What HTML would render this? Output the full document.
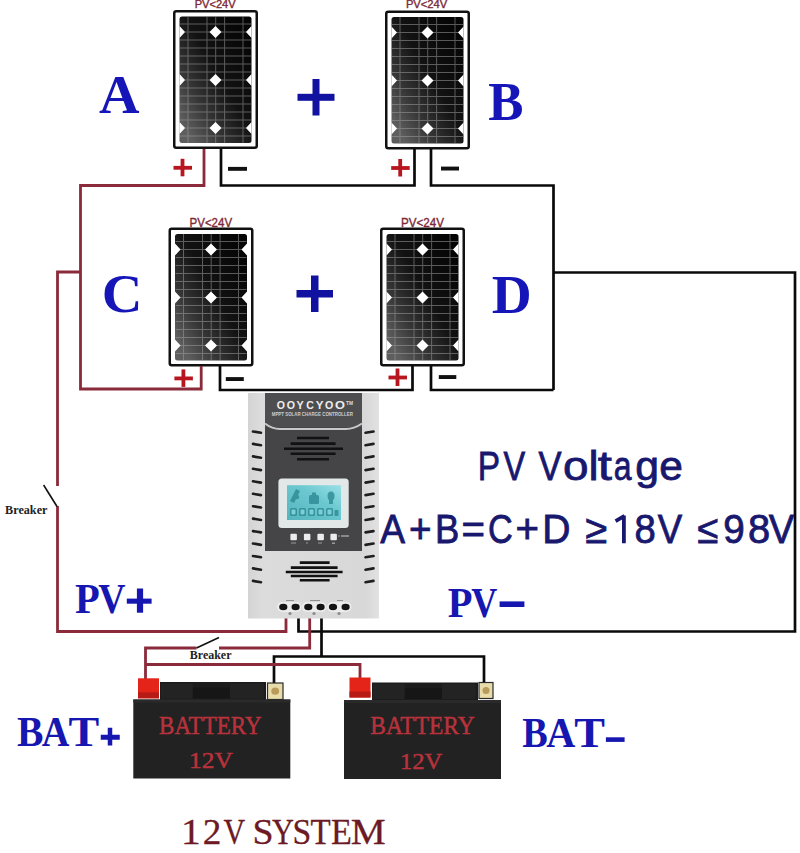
<!DOCTYPE html>
<html><head><meta charset="utf-8">
<style>
html,body{margin:0;padding:0;background:#fff;width:800px;height:853px;overflow:hidden;}
svg{display:block;position:absolute;left:0;top:0;}
</style></head>
<body>
<svg width="800" height="853" viewBox="0 0 800 853">
<defs>
  <linearGradient id="pg" x1="0.9" y1="0.1" x2="0.1" y2="0.9">
    <stop offset="0" stop-color="#050505"/>
    <stop offset="0.45" stop-color="#121212"/>
    <stop offset="0.75" stop-color="#363636"/>
    <stop offset="1" stop-color="#5e5e5e"/>
  </linearGradient>
  <linearGradient id="bodyg" x1="0" y1="0" x2="1" y2="0">
    <stop offset="0" stop-color="#d4d4d4"/>
    <stop offset="0.1" stop-color="#dcdcdc"/>
    <stop offset="0.9" stop-color="#d8d8d8"/>
    <stop offset="1" stop-color="#e2e2e2"/>
  </linearGradient>
  <linearGradient id="lcdg" x1="0" y1="1" x2="1" y2="0">
    <stop offset="0" stop-color="#54b4bc"/>
    <stop offset="0.6" stop-color="#6cc8d0"/>
    <stop offset="1" stop-color="#9ae0e6"/>
  </linearGradient>
  <clipPath id="pclip"><rect x="6.5" y="6.5" width="72" height="126.5"/></clipPath>
  <g id="panel">
    <rect x="1.25" y="1.25" width="82.5" height="136.5" rx="2" fill="#fff" stroke="#111" stroke-width="2.5"/>
    <rect x="6.5" y="6.5" width="72" height="126.5" rx="2.5" fill="url(#pg)"/>
    <g stroke="#9c9c9c" stroke-width="1" opacity="0.55">
      <path d="M15,6.5V133 M34,6.5V133 M42.7,6.5V133 M51.6,6.5V133 M70,6.5V133"/>
      <path d="M7,14H78 M7,22H78 M7,30H78 M7,38H78 M7,46H78 M7,54H78 M7,62H78 M7,70H78 M7,78H78 M7,86H78 M7,94H78 M7,102H78 M7,110H78 M7,118H78 M7,126H78"/>
    </g>
    <g clip-path="url(#pclip)" fill="#fff">
      <path d="M42.5,16 L48.5,22 L42.5,28 L36.5,22 Z M42.5,64 L48.5,70 L42.5,76 L36.5,70 Z M42.5,112 L48.5,118 L42.5,124 L36.5,118 Z"/>
      <path d="M6.5,16 L12,22 L6.5,28 L1,22 Z M6.5,64 L12,70 L6.5,76 L1,70 Z M6.5,112 L12,118 L6.5,124 L1,118 Z"/>
      <path d="M78.5,16 L84,22 L78.5,28 L73,22 Z M78.5,64 L84,70 L78.5,76 L73,70 Z M78.5,112 L84,118 L78.5,124 L73,118 Z"/>
    </g>
  </g>
</defs>

<use href="#panel" x="173" y="10"/>
<use href="#panel" x="385" y="10.5"/>
<use href="#panel" x="168.5" y="227.5"/>
<use href="#panel" x="380" y="227.5"/>
<text x="194.71" y="8.20" textLength="40.96" lengthAdjust="spacingAndGlyphs" font-family='"Liberation Sans",sans-serif' font-weight="normal" font-size="10.5" fill="#7c2836" stroke="#7c2836" stroke-width="0.35">PV&lt;24V</text>
<text x="405.90" y="8.20" textLength="41.37" lengthAdjust="spacingAndGlyphs" font-family='"Liberation Sans",sans-serif' font-weight="normal" font-size="10.5" fill="#7c2836" stroke="#7c2836" stroke-width="0.35">PV&lt;24V</text>
<text x="189.58" y="226.50" textLength="42.50" lengthAdjust="spacingAndGlyphs" font-family='"Liberation Sans",sans-serif' font-weight="normal" font-size="12.3" fill="#7c2836" stroke="#7c2836" stroke-width="0.35">PV&lt;24V</text>
<text x="401.07" y="227.00" textLength="43.01" lengthAdjust="spacingAndGlyphs" font-family='"Liberation Sans",sans-serif' font-weight="normal" font-size="12.3" fill="#7c2836" stroke="#7c2836" stroke-width="0.35">PV&lt;24V</text>
<g fill="none" stroke="#0a0a0a" stroke-width="2.7" stroke-linejoin="miter" stroke-linecap="butt">
  <path d="M221,149 V185.5 H414.5 V149"/>
  <path d="M431,149 V185.5 H553.5 V390"/>
  <path d="M220,366 V390 H412.5 V366"/>
  <path d="M431,366 V390 H553.5"/>
  <path d="M553.5,272.5 H795 V631.5 H298.5 V617"/>
  <path d="M321.5,617 V656.5"/>
  <path d="M274,683 V656.5 H484 V683"/>
</g>
<g fill="none" stroke="#8a2a3a" stroke-width="2.8" stroke-linejoin="miter">
  <path d="M204,149 V185.5 H80.5 V389 H201.2 V366"/>
  <path d="M80.5,272 H57.5 V486"/>
  <path d="M57.5,506 V631.5 H286 V617"/>
  <path d="M309.7,617 V648 H219"/>
  <path d="M196.5,648 H145.5 V679"/>
  <path d="M145.5,664.5 H360 V679"/>
</g>
<g stroke="#111" stroke-width="1.6" fill="none">
  <path d="M43.6,485 L57,506.5"/>
  <path d="M196.5,648 L219,637.5"/>
</g>
<text x="5.12" y="514.00" textLength="42.31" lengthAdjust="spacingAndGlyphs" font-family='"Liberation Serif",serif' font-weight="bold" font-size="12" fill="#222222" >Breaker</text>
<text x="189.82" y="658.75" textLength="41.65" lengthAdjust="spacingAndGlyphs" font-family='"Liberation Serif",serif' font-weight="bold" font-size="11.5" fill="#222222" >Breaker</text>
<g fill="#b8161e">
  <rect x="173.5" y="165.9" width="18.5" height="3.8"/><rect x="180.6" y="158.8" width="3.8" height="17.5"/>
  <rect x="391.2" y="166.1" width="18.5" height="3.8"/><rect x="398.3" y="159" width="3.8" height="17.5"/>
  <rect x="174.4" y="376.5" width="18.5" height="3.8"/><rect x="181.5" y="369.4" width="3.8" height="17.5"/>
  <rect x="388.5" y="375.6" width="18.5" height="3.8"/><rect x="395.6" y="368.5" width="3.8" height="17.5"/>
</g>
<g fill="#111">
  <rect x="228" y="166.9" width="19" height="3.9"/>
  <rect x="441" y="166.6" width="18" height="3.9"/>
  <rect x="225.8" y="377.1" width="18" height="3.9"/>
  <rect x="438.8" y="375.1" width="17.5" height="3.9"/>
</g>
<text transform="translate(119.25,113.00) scale(1.019,1)" x="-19.94" y="0" font-family='"Liberation Serif",serif' font-weight="bold" font-size="55" fill="#1616b8" >A</text>
<text transform="translate(505.50,120.00) scale(0.960,1)" x="-18.01" y="0" font-family='"Liberation Serif",serif' font-weight="bold" font-size="55" fill="#1616b8" >B</text>
<text transform="translate(121.25,312.00) scale(1.024,1)" x="-19.11" y="0" font-family='"Liberation Serif",serif' font-weight="bold" font-size="55" fill="#1616b8" >C</text>
<text transform="translate(510.75,312.50) scale(1.006,1)" x="-18.98" y="0" font-family='"Liberation Serif",serif' font-weight="bold" font-size="55" fill="#1616b8" >D</text>
<g fill="#1212a0">
  <rect x="297.5" y="93.8" width="37" height="7"/><rect x="312.5" y="79" width="7" height="36.5"/>
  <rect x="296.5" y="290" width="36.5" height="7.5"/><rect x="311" y="275.5" width="7.5" height="36.5"/>
</g>
<g>
  <rect x="248" y="393" width="131" height="225.5" fill="url(#bodyg)"/>
  <rect x="265" y="393" width="97" height="158" fill="#454547"/>
  <rect x="265" y="393" width="97" height="34" fill="#4e4e50"/>
  <path d="M265,423.5 Q272,429 280,429 L346,429 Q354,429 362,423.5" fill="none" stroke="#c8c8c8" stroke-width="2"/>
<text transform="translate(280.93,409.10) scale(0.961,1)" x="-4.26" y="0" font-family='"Liberation Sans",sans-serif' font-weight="bold" font-size="11" fill="#eeeeee" >O</text>
<text transform="translate(290.90,409.10) scale(0.968,1)" x="-4.26" y="0" font-family='"Liberation Sans",sans-serif' font-weight="bold" font-size="11" fill="#eeeeee" >O</text>
<text transform="translate(300.10,409.10) scale(0.981,1)" x="-3.69" y="0" font-family='"Liberation Sans",sans-serif' font-weight="bold" font-size="11" fill="#eeeeee" >Y</text>
<text transform="translate(310.05,409.10) scale(0.958,1)" x="-4.04" y="0" font-family='"Liberation Sans",sans-serif' font-weight="bold" font-size="11" fill="#eeeeee" >C</text>
<text transform="translate(319.75,409.10) scale(1.053,1)" x="-3.69" y="0" font-family='"Liberation Sans",sans-serif' font-weight="bold" font-size="11" fill="#eeeeee" >Y</text>
<text transform="translate(329.20,409.10) scale(0.968,1)" x="-4.26" y="0" font-family='"Liberation Sans",sans-serif' font-weight="bold" font-size="11" fill="#eeeeee" >O</text>
<text transform="translate(339.95,409.10) scale(1.164,1)" x="-4.26" y="0" font-family='"Liberation Sans",sans-serif' font-weight="bold" font-size="11" fill="#eeeeee" >O</text>
  <text x="346" y="405" font-family='"Liberation Sans",sans-serif' font-weight="bold" font-size="4.8" fill="#dddddd" textLength="7" lengthAdjust="spacingAndGlyphs">TM</text>
<text x="271.71" y="416.20" textLength="81.18" lengthAdjust="spacingAndGlyphs" font-family='"Liberation Sans",sans-serif' font-weight="bold" font-size="5.2" fill="#cfcfcf" >MPPT SOLAR CHARGE CONTROLLER</text>
  <g stroke="#111" stroke-width="2.6" fill="none">
    <path d="M297,438H329 M290.6,443.6H335.6 M284,448.7H343 M290.6,453.8H335.6 M297,459.3H329"/>
    <path d="M299.8,562.6H329.6 M290.8,567.6H337.6 M285.8,572H342.6 M290.8,576H337.6 M299.8,580.2H329.6"/>
  </g>
  <rect x="278.4" y="478.4" width="70.3" height="49.6" rx="3.5" fill="#e2e8e8"/>
  <rect x="287" y="485.2" width="54" height="34.8" fill="url(#lcdg)"/>
  <g fill="#2c8a94" opacity="0.8">
    <path d="M290,501 L296,489 L300,491 L294,503 Z"/>
    <circle cx="297" cy="497" r="2.2"/>
    <rect x="309" y="495" width="10" height="9" rx="1.5"/>
    <rect x="312" y="492.5" width="4" height="3"/>
    <ellipse cx="331" cy="496" rx="3.5" ry="4.5"/>
    <rect x="329" y="500" width="4" height="4"/>
    <rect x="290" y="508" width="7" height="8" rx="1.5"/>
    <rect x="299" y="508" width="7" height="8" rx="1.5"/>
    <rect x="308" y="508" width="7" height="8" rx="1.5"/>
    <rect x="317" y="508" width="7" height="8" rx="1.5"/>
    <rect x="326" y="508" width="7" height="8" rx="1.5"/>
    <rect x="334.5" y="510" width="4" height="6" rx="1"/>
  </g>
  <g fill="#8fdde4" opacity="0.8">
    <rect x="291.5" y="509.5" width="4" height="5" rx="1"/>
    <rect x="300.5" y="509.5" width="4" height="5" rx="1"/>
    <rect x="309.5" y="509.5" width="4" height="5" rx="1"/>
    <rect x="318.5" y="509.5" width="4" height="5" rx="1"/>
    <rect x="327.5" y="509.5" width="4" height="5" rx="1"/>
  </g>
  <g fill="#9a9a9a">
    <rect x="291" y="542.5" width="5" height="1"/><rect x="306" y="542.5" width="2" height="1"/><rect x="318" y="542.5" width="4" height="1"/><rect x="332" y="542.5" width="3" height="1.5"/>
    <rect x="338" y="535.5" width="2" height="1"/><rect x="341" y="535.2" width="8" height="1.6"/>
  </g>
  <g fill="#ececec">
    <rect x="290.4" y="533.8" width="6.5" height="6.5" rx="1"/>
    <rect x="303.9" y="533.8" width="6.5" height="6.5" rx="1"/>
    <rect x="317.4" y="533.8" width="6.5" height="6.5" rx="1"/>
    <rect x="330.4" y="533.8" width="6.5" height="6.5" rx="1"/>
  </g>
  <g stroke="#1e1e1e" stroke-width="2.6" fill="none" stroke-linecap="round">
    <path d="M253,431.5 L261,432.8 M253,443.9 L261,445.2 M253,456.4 L261,457.7 M253,468.8 L261,470.1 M253,481.3 L261,482.6 M253,493.8 L261,495.1 M253,506.2 L261,507.5 M253,518.6 L261,520.0 M253,531.1 L261,532.4 M253,543.5 L261,544.9 M253,556.0 L261,557.3 M253,568.4 L261,569.8 M253,580.9 L261,582.2"/>
    <path d="M365.5,432.8 L373.5,431.5 M365.5,445.2 L373.5,443.9 M365.5,457.7 L373.5,456.4 M365.5,470.1 L373.5,468.8 M365.5,482.6 L373.5,481.3 M365.5,495.1 L373.5,493.8 M365.5,507.5 L373.5,506.2 M365.5,520.0 L373.5,518.6 M365.5,532.4 L373.5,531.1 M365.5,544.9 L373.5,543.5 M365.5,557.3 L373.5,556.0 M365.5,569.8 L373.5,568.4 M365.5,582.2 L373.5,580.9"/>
  </g>
  <g fill="#ececec">
    <rect x="277" y="602" width="24.5" height="10" rx="5"/>
    <rect x="302" y="602" width="24.5" height="10" rx="5"/>
    <rect x="327" y="602" width="24.5" height="10" rx="5"/>
  </g>
  <g fill="#8a8a8a">
    <rect x="286" y="600" width="8" height="0.9"/><rect x="310" y="600" width="10" height="0.9"/><rect x="337" y="600" width="6" height="0.9"/>
    <circle cx="290" cy="613.5" r="1.6"/><circle cx="314" cy="613.5" r="1.6"/><circle cx="339" cy="613.5" r="1.6"/>
  </g>
  <g fill="#141414">
    <ellipse cx="283.3" cy="607" rx="4.1" ry="3.3"/>
    <ellipse cx="295.6" cy="607" rx="4.1" ry="3.3"/>
    <ellipse cx="308.3" cy="607" rx="4.1" ry="3.3"/>
    <ellipse cx="320.6" cy="607" rx="4.1" ry="3.3"/>
    <ellipse cx="333" cy="607" rx="4.1" ry="3.3"/>
    <ellipse cx="345.6" cy="607" rx="4.1" ry="3.3"/>
  </g>
</g>
<g>
  <rect x="160" y="682.0" width="106" height="18" fill="#1c1c1c"/>
  <rect x="161" y="683.5" width="31.8" height="15" fill="#232323"/>
  <rect x="230.0" y="683.5" width="33.9" height="15" fill="#232323"/>
  <rect x="192.9" y="687.5" width="37.1" height="11" fill="#161616"/>
  <rect x="133.3" y="699.5" width="157" height="79" fill="#222"/>
  <rect x="133.3" y="699.5" width="157" height="3" fill="#2a2a2a"/>
  <rect x="138" y="678.3" width="21" height="20" fill="#e42418"/>
  <rect x="138" y="692.3" width="21" height="6" fill="#b81a14"/>
  <rect x="267.5" y="683" width="15.5" height="16.5" fill="#e8dcaa" stroke="#2a2a2a" stroke-width="1.2"/>
  <ellipse cx="275.2" cy="691.2" rx="3.9" ry="3.6" fill="#b89a5a"/>
</g>
<g>
  <rect x="372" y="682.5" width="106" height="18" fill="#1c1c1c"/>
  <rect x="373" y="684" width="31.8" height="15" fill="#232323"/>
  <rect x="442.0" y="684" width="33.9" height="15" fill="#232323"/>
  <rect x="404.9" y="688" width="37.1" height="11" fill="#161616"/>
  <rect x="344" y="700" width="157" height="79" fill="#222"/>
  <rect x="344" y="700" width="157" height="3" fill="#2a2a2a"/>
  <rect x="349.5" y="677.5" width="21" height="20" fill="#e42418"/>
  <rect x="349.5" y="691.5" width="21" height="6" fill="#b81a14"/>
  <rect x="479" y="682.5" width="14" height="16" fill="#e8dcaa" stroke="#2a2a2a" stroke-width="1.2"/>
  <ellipse cx="486.0" cy="690.5" rx="3.5" ry="3.5" fill="#b89a5a"/>
</g>
<text x="159.06" y="733.50" textLength="102.57" lengthAdjust="spacingAndGlyphs" font-family='"Liberation Serif",serif' font-weight="normal" font-size="25" fill="#b8323c" stroke="#b8323c" stroke-width="0.5">BATTERY</text>
<text x="189.09" y="768.00" textLength="43.72" lengthAdjust="spacingAndGlyphs" font-family='"Liberation Serif",serif' font-weight="normal" font-size="24" fill="#b8323c" stroke="#b8323c" stroke-width="0.5">12V</text>
<text x="370.30" y="734.00" textLength="104.34" lengthAdjust="spacingAndGlyphs" font-family='"Liberation Serif",serif' font-weight="normal" font-size="25" fill="#b8323c" stroke="#b8323c" stroke-width="0.5">BATTERY</text>
<text x="399.91" y="768.60" textLength="42.39" lengthAdjust="spacingAndGlyphs" font-family='"Liberation Serif",serif' font-weight="normal" font-size="24" fill="#b8323c" stroke="#b8323c" stroke-width="0.5">12V</text>
<text transform="translate(29.88,745.75) scale(0.954,1)" x="-13.59" y="0" font-family='"Liberation Serif",serif' font-weight="bold" font-size="41.5" fill="#1616b0" >B</text>
<text transform="translate(55.75,745.75) scale(0.923,1)" x="-15.04" y="0" font-family='"Liberation Serif",serif' font-weight="bold" font-size="41.5" fill="#1616b0" >A</text>
<text transform="translate(83.88,745.75) scale(1.110,1)" x="-13.80" y="0" font-family='"Liberation Serif",serif' font-weight="bold" font-size="41.5" fill="#1616b0" >T</text>
<g fill="#1616b0"><rect x="100.75" y="734.75" width="19" height="5"/><rect x="107.75" y="727.75" width="4.5" height="17.75"/></g>
<text transform="translate(534.65,747.40) scale(0.921,1)" x="-13.59" y="0" font-family='"Liberation Serif",serif' font-weight="bold" font-size="41.5" fill="#1616b0" >B</text>
<text transform="translate(560.80,747.40) scale(0.971,1)" x="-15.04" y="0" font-family='"Liberation Serif",serif' font-weight="bold" font-size="41.5" fill="#1616b0" >A</text>
<text transform="translate(589.62,747.40) scale(1.110,1)" x="-13.80" y="0" font-family='"Liberation Serif",serif' font-weight="bold" font-size="41.5" fill="#1616b0" >T</text>
<rect x="605.9" y="737.3" width="18.7" height="4.6" fill="#1616b0"/>
<text transform="translate(87.15,612.70) scale(0.977,1)" x="-12.45" y="0" font-family='"Liberation Serif",serif' font-weight="bold" font-size="41.5" fill="#1616b0" >P</text>
<text transform="translate(111.90,612.70) scale(0.909,1)" x="-14.94" y="0" font-family='"Liberation Serif",serif' font-weight="bold" font-size="41.5" fill="#1616b0" >V</text>
<g fill="#1616b0"><rect x="126.8" y="598.6" width="24.8" height="5.1"/><rect x="136.9" y="588.5" width="6.2" height="24.2"/></g>
<text transform="translate(459.95,616.60) scale(0.977,1)" x="-12.45" y="0" font-family='"Liberation Serif",serif' font-weight="bold" font-size="41.5" fill="#1616b0" >P</text>
<text transform="translate(484.15,616.60) scale(0.871,1)" x="-14.94" y="0" font-family='"Liberation Serif",serif' font-weight="bold" font-size="41.5" fill="#1616b0" >V</text>
<rect x="499.6" y="601.4" width="24.8" height="5.6" fill="#1616b0"/>
<text transform="translate(191.40,844.00) scale(1.080,1)" x="-9.58" y="0" font-family='"Liberation Serif",serif' font-weight="normal" font-size="36.5" fill="#6c1a24" stroke="#6c1a24" stroke-width="0.3">1</text>
<text transform="translate(211.95,844.00) scale(1.021,1)" x="-8.94" y="0" font-family='"Liberation Serif",serif' font-weight="normal" font-size="36.5" fill="#6c1a24" stroke="#6c1a24" stroke-width="0.3">2</text>
<text transform="translate(234.25,844.00) scale(0.822,1)" x="-13.14" y="0" font-family='"Liberation Serif",serif' font-weight="normal" font-size="36.5" fill="#6c1a24" stroke="#6c1a24" stroke-width="0.3">V</text>
<text transform="translate(263.15,844.00) scale(1.039,1)" x="-10.22" y="0" font-family='"Liberation Serif",serif' font-weight="normal" font-size="36.5" fill="#6c1a24" stroke="#6c1a24" stroke-width="0.3">S</text>
<text transform="translate(282.60,844.00) scale(0.832,1)" x="-12.87" y="0" font-family='"Liberation Serif",serif' font-weight="normal" font-size="36.5" fill="#6c1a24" stroke="#6c1a24" stroke-width="0.3">Y</text>
<text transform="translate(302.05,844.00) scale(0.924,1)" x="-10.22" y="0" font-family='"Liberation Serif",serif' font-weight="normal" font-size="36.5" fill="#6c1a24" stroke="#6c1a24" stroke-width="0.3">S</text>
<text transform="translate(320.70,844.00) scale(0.905,1)" x="-11.22" y="0" font-family='"Liberation Serif",serif' font-weight="normal" font-size="36.5" fill="#6c1a24" stroke="#6c1a24" stroke-width="0.3">T</text>
<text transform="translate(341.05,844.00) scale(0.936,1)" x="-10.77" y="0" font-family='"Liberation Serif",serif' font-weight="normal" font-size="36.5" fill="#6c1a24" stroke="#6c1a24" stroke-width="0.3">E</text>
<text transform="translate(368.30,844.00) scale(1.076,1)" x="-16.24" y="0" font-family='"Liberation Serif",serif' font-weight="normal" font-size="36.5" fill="#6c1a24" stroke="#6c1a24" stroke-width="0.3">M</text>
<text transform="translate(489.25,479.90) scale(0.816,1)" x="-14.25" y="0" font-family='"Liberation Sans",sans-serif' font-weight="normal" font-size="41" fill="#18186e" stroke="#18186e" stroke-width="0.8">P</text>
<text transform="translate(514.35,479.90) scale(0.793,1)" x="-13.63" y="0" font-family='"Liberation Sans",sans-serif' font-weight="normal" font-size="41" fill="#18186e" stroke="#18186e" stroke-width="0.8">V</text>
<text transform="translate(550.08,479.90) scale(0.843,1)" x="-13.63" y="0" font-family='"Liberation Sans",sans-serif' font-weight="normal" font-size="41" fill="#18186e" stroke="#18186e" stroke-width="0.8">V</text>
<text transform="translate(575.80,479.90) scale(1.119,1)" x="-11.38" y="0" font-family='"Liberation Sans",sans-serif' font-weight="normal" font-size="41" fill="#18186e" stroke="#18186e" stroke-width="0.8">o</text>
<text transform="translate(593.55,479.90) scale(1.111,1)" x="-4.51" y="0" font-family='"Liberation Sans",sans-serif' font-weight="normal" font-size="41" fill="#18186e" stroke="#18186e" stroke-width="0.8">l</text>
<text transform="translate(604.90,479.90) scale(1.243,1)" x="-5.84" y="0" font-family='"Liberation Sans",sans-serif' font-weight="normal" font-size="41" fill="#18186e" stroke="#18186e" stroke-width="0.8">t</text>
<text transform="translate(623.15,479.90) scale(0.781,1)" x="-12.20" y="0" font-family='"Liberation Sans",sans-serif' font-weight="normal" font-size="41" fill="#18186e" stroke="#18186e" stroke-width="0.8">a</text>
<text transform="translate(646.50,479.90) scale(1.041,1)" x="-10.87" y="0" font-family='"Liberation Sans",sans-serif' font-weight="normal" font-size="41" fill="#18186e" stroke="#18186e" stroke-width="0.8">g</text>
<text transform="translate(670.90,479.90) scale(1.038,1)" x="-11.28" y="0" font-family='"Liberation Sans",sans-serif' font-weight="normal" font-size="41" fill="#18186e" stroke="#18186e" stroke-width="0.8">e</text>
<text transform="translate(392.62,543.25) scale(0.930,1)" x="-13.30" y="0" font-family='"Liberation Sans",sans-serif' font-weight="normal" font-size="40" fill="#18186e" stroke="#18186e" stroke-width="0.8">A</text>
<text transform="translate(420.38,543.25) scale(0.966,1)" x="-11.70" y="0" font-family='"Liberation Sans",sans-serif' font-weight="normal" font-size="40" fill="#18186e" stroke="#18186e" stroke-width="0.8">+</text>
<text transform="translate(447.75,543.25) scale(0.911,1)" x="-13.90" y="0" font-family='"Liberation Sans",sans-serif' font-weight="normal" font-size="40" fill="#18186e" stroke="#18186e" stroke-width="0.8">B</text>
<text transform="translate(473.25,543.25) scale(1.005,1)" x="-11.70" y="0" font-family='"Liberation Sans",sans-serif' font-weight="normal" font-size="40" fill="#18186e" stroke="#18186e" stroke-width="0.8">=</text>
<text transform="translate(500.62,543.25) scale(0.856,1)" x="-14.70" y="0" font-family='"Liberation Sans",sans-serif' font-weight="normal" font-size="40" fill="#18186e" stroke="#18186e" stroke-width="0.8">C</text>
<text transform="translate(527.25,543.25) scale(1.005,1)" x="-11.70" y="0" font-family='"Liberation Sans",sans-serif' font-weight="normal" font-size="40" fill="#18186e" stroke="#18186e" stroke-width="0.8">+</text>
<text transform="translate(556.88,543.25) scale(0.977,1)" x="-15.10" y="0" font-family='"Liberation Sans",sans-serif' font-weight="normal" font-size="40" fill="#18186e" stroke="#18186e" stroke-width="0.8">D</text>
<text transform="translate(596.50,543.25) scale(0.995,1)" x="-11.00" y="0" font-family='"Liberation Sans",sans-serif' font-weight="normal" font-size="40" fill="#18186e" stroke="#18186e" stroke-width="0.8">≥</text>
<text transform="translate(645.25,543.25) scale(0.957,1)" x="-11.20" y="0" font-family='"Liberation Sans",sans-serif' font-weight="normal" font-size="40" fill="#18186e" stroke="#18186e" stroke-width="0.8">8</text>
<text transform="translate(670.00,543.25) scale(0.916,1)" x="-13.30" y="0" font-family='"Liberation Sans",sans-serif' font-weight="normal" font-size="40" fill="#18186e" stroke="#18186e" stroke-width="0.8">V</text>
<text transform="translate(708.12,543.25) scale(0.957,1)" x="-11.00" y="0" font-family='"Liberation Sans",sans-serif' font-weight="normal" font-size="40" fill="#18186e" stroke="#18186e" stroke-width="0.8">≤</text>
<text transform="translate(734.00,543.25) scale(0.968,1)" x="-11.10" y="0" font-family='"Liberation Sans",sans-serif' font-weight="normal" font-size="40" fill="#18186e" stroke="#18186e" stroke-width="0.8">9</text>
<text transform="translate(759.12,543.25) scale(0.997,1)" x="-11.20" y="0" font-family='"Liberation Sans",sans-serif' font-weight="normal" font-size="40" fill="#18186e" stroke="#18186e" stroke-width="0.8">8</text>
<text transform="translate(781.50,543.25) scale(0.954,1)" x="-13.30" y="0" font-family='"Liberation Sans",sans-serif' font-weight="normal" font-size="40" fill="#18186e" stroke="#18186e" stroke-width="0.8">V</text>
<path d="M623.9,515.5 V543.25 M615.6,521.2 L624.5,515.9" stroke="#18186e" stroke-width="3.8" fill="none" stroke-linecap="butt"/>
</svg>
</body></html>
